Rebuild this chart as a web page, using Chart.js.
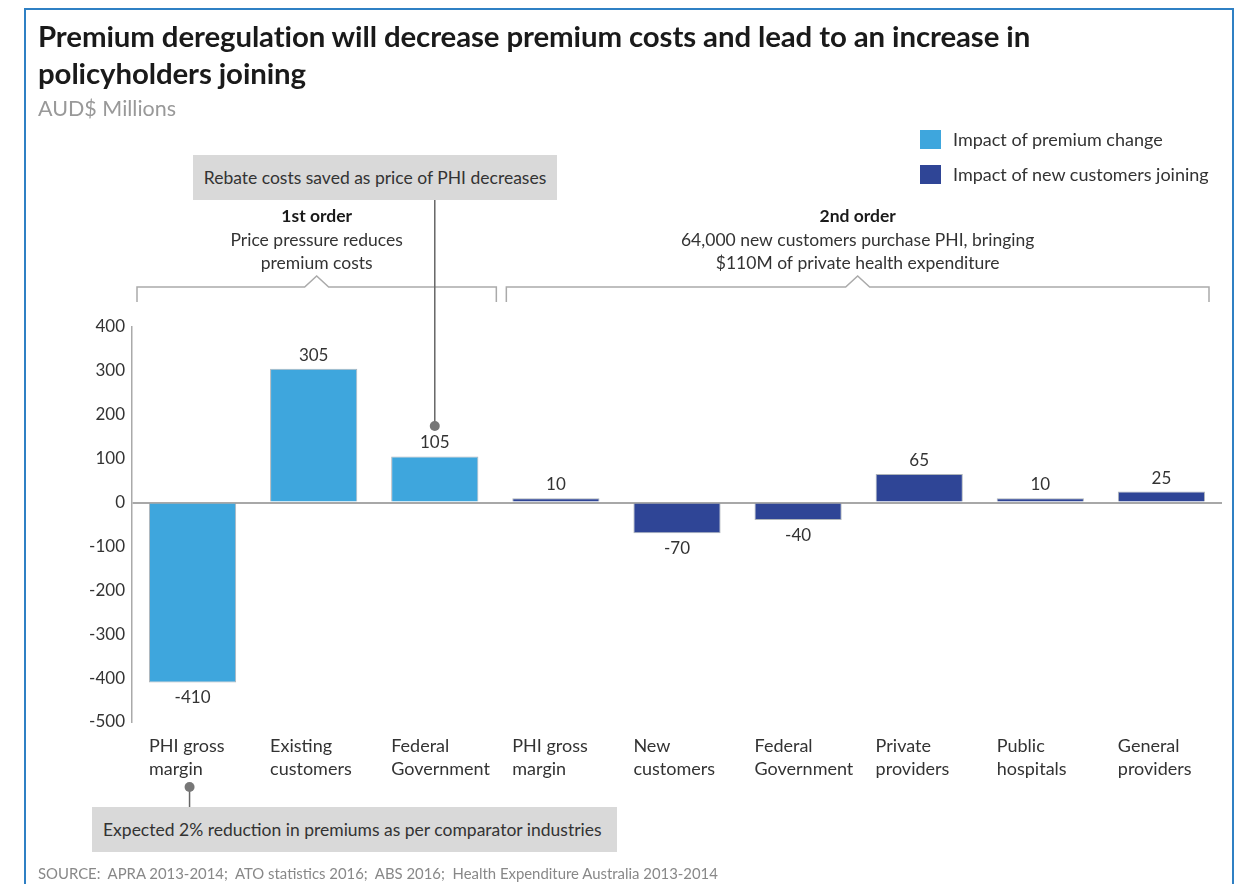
<!DOCTYPE html>
<html>
<head>
<meta charset="utf-8">
<script src="https://cdn.jsdelivr.net/npm/chart.js@4"></script>
<style>
  body { margin: 0; background: #fff; font-family: Lato, 'Open Sans', sans-serif; color: #333; }
  #page { position: relative; width: 1239px; height: 884px; overflow: hidden; }
  #frame { position: absolute; left: 24px; top: 8px; width: 1206px; height: 900px; border: 2px solid #2f80c4; }
  #chart { position: absolute; left: 0; top: 0; }
  .abs { position: absolute; white-space: nowrap; }
  h1 { position: absolute; left: 38px; top: 17px; margin: 0; font-size: 29.4px; line-height: 37px; font-weight: 700; color: #1a1a1a; letter-spacing: -0.1px; }
  #sub { left: 38px; top: 95px; font-size: 21.5px; color: #999; }
  .legend { font-size: 18px; color: #333; }
  .legend i { position: absolute; left: -33px; top: 2px; width: 21px; height: 19px; }
  .callout { background: #d9d9d9; font-size: 17.5px; color: #333; line-height: 45px; }
  #source { left: 38px; top: 864px; font-size: 14.9px; color: #888; }
</style>
</head>
<body>
<div id="page">
  <div id="frame"></div>
  <canvas id="chart" width="1239" height="884"></canvas>
  <h1>Premium deregulation will decrease premium costs and lead to an increase in<br>policyholders joining</h1>
  <div class="abs" id="sub">AUD$ Millions</div>
  <div class="abs legend" style="left:953px; top:128px;"><i style="background:#3ea6dd"></i>Impact of premium change</div>
  <div class="abs legend" style="left:953px; top:163px;"><i style="background:#2f4596"></i>Impact of new customers joining</div>
  <div class="abs callout" style="left:193px; top:155px; width:364px; text-align:center;">Rebate costs saved as price of PHI decreases</div>
  <div class="abs callout" style="left:92px; top:807px; width:514px; padding-left:11px;">Expected 2% reduction in premiums as per comparator industries</div>
  <div class="abs" id="source">SOURCE:&nbsp; APRA 2013-2014;&nbsp; ATO statistics 2016;&nbsp; ABS 2016;&nbsp; Health Expenditure Australia 2013-2014</div>
</div>
<script>
const categories = [
  ['PHI gross', 'margin'],
  ['Existing', 'customers'],
  ['Federal', 'Government'],
  ['PHI gross', 'margin'],
  ['New', 'customers'],
  ['Federal', 'Government'],
  ['Private', 'providers'],
  ['Public', 'hospitals'],
  ['General', 'providers'],
];
const premiumChange = [-410, 305, 105, null, null, null, null, null, null];
const newCustomers = [null, null, null, 10, -70, -40, 65, 10, 25];
const yTicks = [400, 300, 200, 100, 0, -100, -200, -300, -400, -500];

const groups = [
  { from: 0, to: 2, title: '1st order', lines: ['Price pressure reduces', 'premium costs'] },
  { from: 3, to: 8, title: '2nd order', lines: ['64,000 new customers purchase PHI, bringing', '$110M of private health expenditure'] },
];
// bracket insets from the category edges, [left, right] per group
const bracketInset = [[5, -1], [11, 13]];

const FONT = 'Lato, "Open Sans", sans-serif';

const annotate = {
  id: 'annotate',
  afterDatasetsDraw(chart) {
    const { ctx } = chart;
    const x = chart.scales.x;
    const half = (x.getPixelForValue(1) - x.getPixelForValue(0)) / 2;
    ctx.save();
    ctx.fillStyle = '#333';
    ctx.font = `17px ${FONT}`;
    ctx.textAlign = 'center';

    // value labels + category labels
    const barLeft = [];
    chart.data.datasets.forEach((ds, i) => {
      chart.getDatasetMeta(i).data.forEach((bar, j) => {
        const v = ds.data[j];
        if (v === null) return;
        barLeft[j] = bar.x - bar.width / 2;
        if (v >= 0) {
          ctx.textBaseline = 'bottom';
          ctx.fillText(String(v), bar.x, bar.y - 5);
        } else {
          ctx.textBaseline = 'top';
          ctx.fillText(String(v), bar.x, bar.y + 7);
        }
      });
    });
    ctx.font = `18px ${FONT}`;
    ctx.textAlign = 'left';
    ctx.textBaseline = 'middle';
    categories.forEach((lines, j) => {
      lines.forEach((t, k) => ctx.fillText(t, barLeft[j], 746 + k * 23));
    });

    // group brackets and headings
    ctx.strokeStyle = '#aaa';
    ctx.lineWidth = 1.5;
    groups.forEach((g, gi) => {
      const l = x.getPixelForValue(g.from) - half + bracketInset[gi][0];
      const r = x.getPixelForValue(g.to) + half - bracketInset[gi][1];
      const c = (l + r) / 2;
      ctx.beginPath();
      ctx.moveTo(l, 302);
      ctx.lineTo(l, 287);
      ctx.lineTo(c - 12, 287);
      ctx.lineTo(c, 276);
      ctx.lineTo(c + 12, 287);
      ctx.lineTo(r, 287);
      ctx.lineTo(r, 302);
      ctx.stroke();
      ctx.textAlign = 'center';
      ctx.font = `bold 17.5px ${FONT}`;
      ctx.fillStyle = '#1a1a1a';
      ctx.fillText(g.title, c, 216);
      ctx.font = `17.5px ${FONT}`;
      ctx.fillStyle = '#333';
      g.lines.forEach((t, k) => ctx.fillText(t, c, 240 + k * 23));
    });

    // leader lines to callouts
    ctx.strokeStyle = '#666';
    ctx.fillStyle = '#777';
    const leaders = [
      { cat: 2, dx: 0, y0: 200, y1: 426 },
      { cat: 0, dx: -3, y0: 807, y1: 787 },
    ];
    leaders.forEach((d) => {
      const px = x.getPixelForValue(d.cat) + d.dx;
      ctx.beginPath();
      ctx.moveTo(px, d.y0);
      ctx.lineTo(px, d.y1);
      ctx.stroke();
      ctx.beginPath();
      ctx.arc(px, d.y1, 5, 0, Math.PI * 2);
      ctx.fill();
    });
    ctx.restore();
  },
};

new Chart(document.getElementById('chart'), {
  type: 'bar',
  data: {
    labels: categories,
    datasets: [
      {
        label: 'Impact of premium change',
        data: premiumChange,
        backgroundColor: '#3ea6dd',
        borderColor: 'rgba(110,120,130,0.55)',
        borderWidth: 1,
        barPercentage: 0.72,
        categoryPercentage: 1,
      },
      {
        label: 'Impact of new customers joining',
        data: newCustomers,
        backgroundColor: '#2f4596',
        borderColor: 'rgba(110,120,130,0.55)',
        borderWidth: 1,
        barPercentage: 0.72,
        categoryPercentage: 1,
      },
    ],
  },
  options: {
    responsive: false,
    animation: false,
    layout: { padding: { left: 72, right: 17, top: 327, bottom: 162 } },
    plugins: { legend: { display: false }, tooltip: { enabled: false } },
    scales: {
      x: {
        stacked: true,
        ticks: { display: false },
        grid: { display: false },
        border: { display: false },
        afterFit(scale) { scale.height = 0; },
      },
      y: {
        stacked: true,
        min: -500,
        max: 400,
        afterBuildTicks(scale) { scale.ticks = yTicks.map((v) => ({ value: v })); },
        afterFit(scale) { scale.width = 60; },
        ticks: { color: '#333', padding: 7, font: { family: FONT, size: 17 } },
        grid: {
          drawTicks: false,
          lineWidth: 2,
          color: (c) => (c.tick && c.tick.value === 0 ? '#a8a8a8' : 'transparent'),
        },
        border: { display: true, color: '#aaa', width: 1.5 },
      },
    },
  },
  plugins: [annotate],
});
</script>
</body>
</html>
